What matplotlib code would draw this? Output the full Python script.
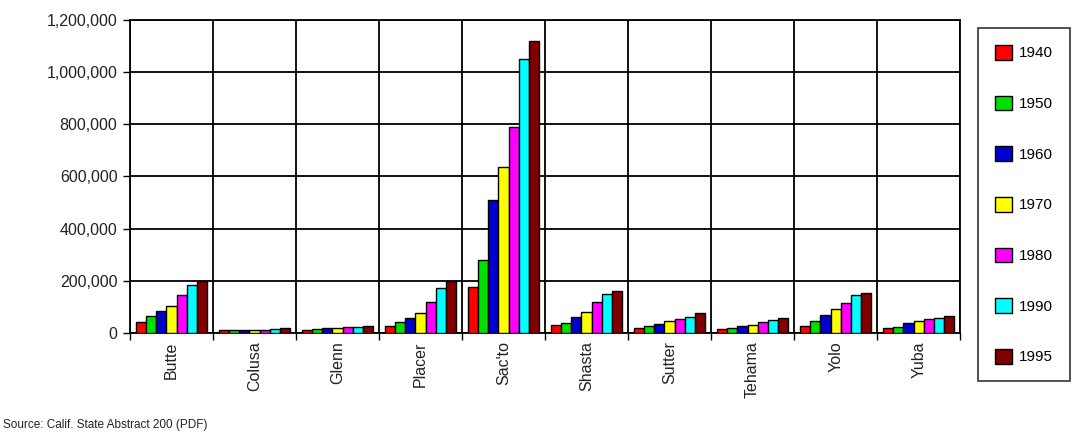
import numpy as np
import matplotlib.pyplot as plt

plt.rcParams['font.family'] = ['Liberation Sans', 'DejaVu Sans']

# counties and census years
counties = ['Butte', 'Colusa', 'Glenn', 'Placer', "Sac'to", 'Shasta', 'Sutter', 'Tehama', 'Yolo', 'Yuba']
years = ['1940', '1950', '1960', '1970', '1980', '1990', '1995']

# population per year (one list per year, in county order)
pop_1940 = [43000, 9800, 12200, 28000, 175000, 29000, 19000, 15000, 28000, 17500]
pop_1950 = [65000, 11700, 15400, 41000, 280000, 37000, 27000, 20000, 44000, 24000]
pop_1960 = [84000, 12100, 17200, 57000, 510000, 62000, 35000, 27000, 70000, 37000]
pop_1970 = [104000, 12400, 17500, 77000, 638000, 80000, 44000, 30000, 93000, 45000]
pop_1980 = [146000, 12800, 21400, 117000, 788000, 118000, 55000, 43000, 115000, 52000]
pop_1990 = [185000, 16300, 24800, 172000, 1050000, 149000, 63000, 51000, 146000, 59000]
pop_1995 = [198000, 17500, 26000, 198000, 1120000, 161000, 77000, 57000, 154000, 64000]

series = [pop_1940, pop_1950, pop_1960, pop_1970, pop_1980, pop_1990, pop_1995]
colors = ['#FF0000', '#00E000', '#0000CC', '#FFFF00', '#FF00FF', '#00FFFF', '#800000']

fig = plt.figure(figsize=(10.74, 4.33), dpi=100)
ax = fig.add_axes([0.121, 0.231, 0.773, 0.723])

x = np.arange(len(counties))
w = 0.86 / len(years)
for i, (vals, c) in enumerate(zip(series, colors)):
    ax.bar(x - 0.43 + w * (i + 0.5), vals, width=w, color=c, edgecolor='black',
           linewidth=1.0, label=years[i], zorder=3)

ax.set_xlim(-0.5, len(counties) - 0.5)
ax.set_ylim(0, 1200000)
ax.set_yticks(np.arange(0, 1200001, 200000))
ax.set_yticklabels(['{:,}'.format(v) for v in range(0, 1200001, 200000)], fontsize=11.5, color='#222222')

# boundaries between counties carry ticks and vertical grid
ax.set_xticks(np.arange(-0.5, len(counties), 1.0))
ax.set_xticklabels([])
ax.set_xticks(x, minor=True)
ax.set_xticklabels(counties, minor=True, rotation=90, fontsize=11.5, color='#222222')
ax.tick_params(axis='x', which='minor', length=0, pad=6)
ax.tick_params(axis='x', which='major', length=5, width=1, direction='out')
ax.tick_params(axis='y', length=5, width=1, direction='out', pad=4)

ax.grid(True, which='major', color='black', linewidth=1.3, zorder=0)
for s in ax.spines.values():
    s.set_linewidth(1.3)

leg = fig.legend(loc='upper left', bbox_to_anchor=(0.9106, 0.935), borderaxespad=0,
                 frameon=True, fancybox=False, edgecolor='black', fontsize=11,
                 handlelength=1.1, handleheight=1.1, labelspacing=2.3, borderpad=1.1,
                 handletextpad=0.5)
leg.get_frame().set_linewidth(1.2)

fig.text(0.003, 0.004, 'Source: Calif. State Abstract 200 (PDF)', fontsize=8.5, va='bottom', color='#222222')

fig.savefig('out.png', dpi=100)
